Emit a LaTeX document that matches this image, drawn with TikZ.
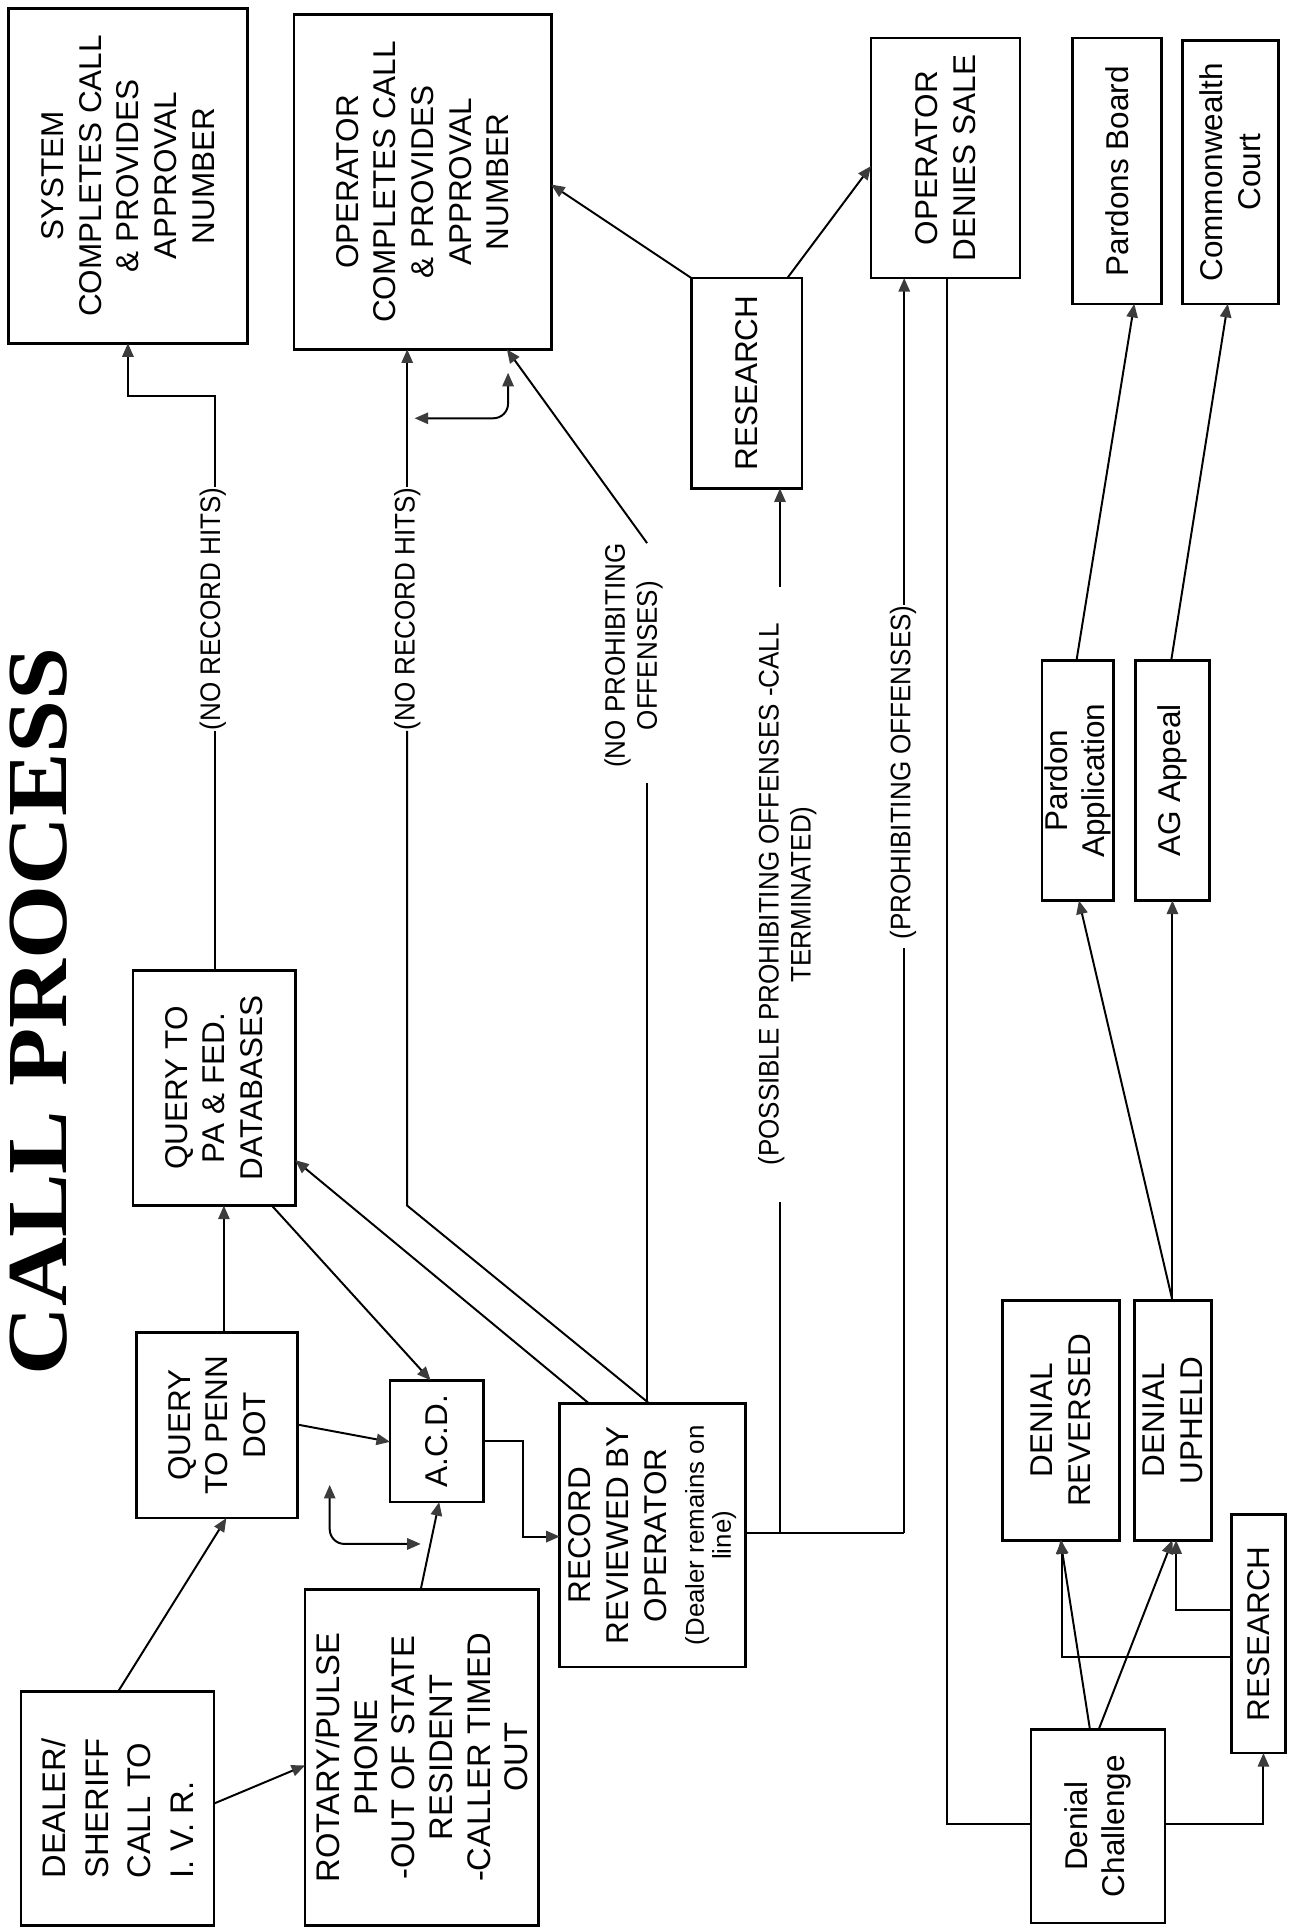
\documentclass[tikz,border=0pt]{standalone}
\usepackage{fontspec}
\usepackage{graphicx}
\setmainfont{Liberation Sans}
\newfontfamily\titlefont{Liberation Serif}
\newfontfamily\lblfont[FakeStretch=0.92]{Liberation Sans}
\usetikzlibrary{arrows.meta,calc}
\definecolor{arrgray}{HTML}{3C3C3C}
\newcommand\mkbox[5]{%
  \node[boxs, minimum width={(#4-#2)*0.5pt}, minimum height={(#5-#3)*0.5pt}] (#1) at ({(#2+#4)/2},{(#3+#5)/2}) {};}
\newcommand\smallf{\fontsize{10.5}{15.3}\selectfont}
\begin{document}
\begin{tikzpicture}[x=0.5pt,y=-0.5pt,
  boxs/.style={draw=black, line width=1.1pt, inner sep=0pt, outer sep=0pt, fill=white},
  txt/.style={rotate=90, align=center, inner sep=0pt, font=\fontsize{12.8}{15.3}\selectfont},
  lbl/.style={rotate=90, align=center, inner sep=0pt, font=\lblfont\fontsize{11.5}{13}\selectfont},
  tip/.tip={Triangle[length=5.5pt,width=4.6pt,color=arrgray]},
  conn/.style={line width=0.8pt, -tip},
  dbl/.style={line width=0.8pt, tip-tip},
  plain/.style={line width=0.8pt}]
\fill[white] (0,0) rectangle (1051,1568);
\useasboundingbox (0,0) rectangle (1051,1568);

% title
\node[rotate=90, inner sep=0pt] (ttl) at (31,822) {\resizebox{296pt}{23pt}{\titlefont\bfseries CALL PROCESS}};

% boxes
\mkbox{sys}{7}{7}{201}{279}
\node[txt] (syst) at (sys) {SYSTEM\\COMPLETES CALL\\\& PROVIDES\\APPROVAL\\NUMBER};
\mkbox{opc}{239}{12}{448}{284}
\node[txt] (opct) at (opc) {OPERATOR\\COMPLETES CALL\\\& PROVIDES\\APPROVAL\\NUMBER};
\mkbox{resa}{562}{226}{652}{397}
\node[txt] (resat) at (resa) {RESEARCH};
\mkbox{ods}{708}{31}{829}{226}
\node[txt] (odst) at (ods) {OPERATOR\\DENIES SALE};
\mkbox{pb}{872}{31}{944}{247}
\node[txt] (pbt) at (pb) {Pardons Board};
\mkbox{cc}{961}{33}{1039}{247}
\node[txt] (cct) at (cc) {Commonwealth\\Court};
\mkbox{qpa}{108}{789}{240}{980}
\node[txt] (qpat) at (qpa) {QUERY TO\\PA \& FED.\\DATABASES};
\mkbox{qpd}{111}{1083}{242}{1234}
\node[txt] (qpdt) at (qpd) {QUERY\\TO PENN\\DOT};
\mkbox{acd}{317}{1122}{393}{1221}
\node[txt] (acdt) at (acd) {A.C.D.};
\mkbox{rec}{455}{1141}{606}{1355}
\node[txt] (rect) at (rec) {RECORD\\REVIEWED BY\\OPERATOR\\\smallf(Dealer remains on\\[-4.3pt]\smallf line)};
\mkbox{dlr}{17}{1375}{174}{1565}
\node[txt, align=left, font=\fontsize{13.3}{17.3}\selectfont] (dlrt) at (dlr) {DEALER/\\SHERIFF\\CALL TO\\I. V. R.};
\mkbox{rot}{248}{1292}{438}{1565}
\node[txt, font=\fontsize{13.3}{15.3}\selectfont] (rott) at (rot) {ROTARY/PULSE\\PHONE\\-OUT OF STATE\\RESIDENT\\-CALLER TIMED\\OUT};
\mkbox{pa}{847}{537}{905}{732}
\node[txt] (pat) at (pa) {Pardon\\Application};
\mkbox{ag}{923}{537}{983}{732}
\node[txt] (agt) at (ag) {AG Appeal};
\mkbox{drev}{815}{1057}{910}{1252}
\node[txt] (drevt) at (drev) {DENIAL\\REVERSED};
\mkbox{dup}{922}{1057}{985}{1252}
\node[txt] (dupt) at (dup) {DENIAL\\UPHELD};
\mkbox{resb}{1001}{1231}{1045}{1425}
\node[txt] (resbt) at (resb) {RESEARCH};
\mkbox{dc}{838}{1406}{947}{1563}
\node[txt] (dct) at (dc) {Denial\\Challenge};

% labels
\node[lbl] (nrha) at (173,495) {(NO RECORD HITS)};
\node[lbl] (nrhb) at (331,495) {(NO RECORD HITS)};
\node[lbl] (npo) at (515,533) {(NO PROHIBITING\\OFFENSES)};
\node[lbl] (ppo) at (640,727) {(POSSIBLE PROHIBITING OFFENSES -CALL\\TERMINATED)};
\node[lbl] (pro) at (734,628) {(PROHIBITING OFFENSES)};

% connectors
\draw[conn] (dlr.north-|96,0) -- (qpd.south-|184,0);
\draw[conn] (dlr.east|-0,1466) -- (rot.west|-0,1435);
\draw[conn] (rot.north-|342,0) -- (acd.south-|357,0);
\draw[conn] (qpd.east|-0,1158) -- (acd.west|-0,1172);
\draw[conn] (qpd.north-|182,0) -- (qpa.south-|182,0);
\draw[conn] (qpa.south-|221,0) -- (acd.north-|350,0);
\draw[conn] (rec.north-|479,0) -- (qpa.east|-0,943);
\draw[conn] (acd.east|-0,1171) -- (425,1171) -- (425,1249) -- (rec.west|-0,1249);

\draw[plain] (rec.north-|528,0) -- (331,980) -- (nrhb.west-|331,0);
\draw[conn] (nrhb.east-|331,0) -- (opc.south-|331,0);
\draw[plain] (qpa.north-|175,0) -- (nrha.west-|175,0);
\draw[conn] (nrha.east-|175,0) -- (175,322) -- (104,322) -- (sys.south-|104,0);

\coordinate (cva) at (337,340);
\coordinate (cvb) at (413,303);
\draw[dbl, rounded corners=6pt] (cva) -- (413,340) -- (cvb);
\coordinate (cvc) at (268,1207);
\coordinate (cvd) at (342,1255);
\draw[dbl, rounded corners=6pt] (cvc) -- (268,1255) -- (cvd);

\draw[plain] (rec.north-|526,0) -- ($(npo.west-|526,0)+(0,12)$);
\draw[conn] (npo.east-|526,0) -- (opc.south-|412,0);

\draw[plain] (rec.east|-0,1246) -- (735,1246);
\draw[plain] (634,1246) -- ($(ppo.west-|634,0)+(0,29)$);
\draw[conn] ($(ppo.east-|634,0)+(0,-29)$) -- (resa.south-|634,0);
\draw[plain] (735,1246) -- ($(pro.west-|735,0)+(0,6)$);
\draw[conn] (pro.east-|735,0) -- (ods.south-|735,0);

\draw[conn] (resa.north west) -- (opc.east|-0,150);
\draw[conn] (resa.north-|640,0) -- (ods.west|-0,135);

\draw[plain] (ods.south-|770,0) -- (770,1483) -- (dc.west|-0,1483);
\draw[conn] (dc.east|-0,1483) -- (1027,1483) -- (resb.south-|1027,0);
\draw[conn] (dc.north-|886,0) -- (drev.south-|862,0);
\draw[conn] (dc.north-|893,0) -- (dup.south-|953,0);
\draw[conn] (resb.west|-0,1347) -- (863,1347) -- (drev.south-|863,0);
\draw[conn] (resb.west|-0,1309) -- (956,1309) -- (dup.south-|956,0);

\draw[conn] (dup.north-|953,0) -- (pa.south-|877,0);
\draw[conn] (dup.north-|953,0) -- (ag.south-|953,0);
\draw[conn] (pa.north-|875,0) -- (pb.south-|922,0);
\draw[conn] (ag.north-|952,0) -- (cc.south-|998,0);
\end{tikzpicture}
\end{document}
